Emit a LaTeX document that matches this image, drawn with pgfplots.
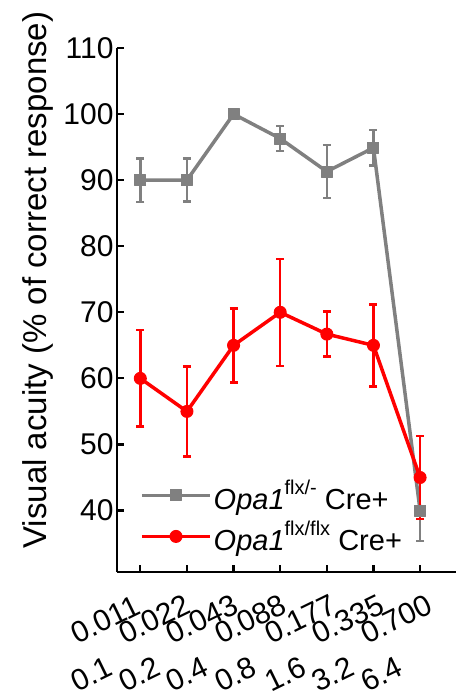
\documentclass[border=0pt]{standalone}
\usepackage{graphicx}
\usepackage{pgfplots}
\pgfplotsset{compat=1.18}
\usepackage{pgfplotstable}
\usepackage{fontspec}
\setmainfont{Liberation Sans}
\definecolor{grayc}{RGB}{128,128,128}
\definecolor{redc}{RGB}{255,0,0}
\newcommand{\xl}[2]{\kern#1pt\rotatebox{26}{#2}}

\pgfplotstableread{
x y e
1 90 3.3
2 90 3.25
3 100 0
4 96.3 1.9
5 91.3 4.0
6 94.9 2.7
7 40 4.6
}\graydata

\pgfplotstableread{
x y e
1 60 7.3
2 55 6.8
3 65 5.6
4 70 8.1
5 66.7 3.4
6 65 6.2
7 45 6.3
}\reddata

\begin{document}
\begin{tikzpicture}
\begin{axis}[
 scale only axis, width=339pt, height=524pt,
 xmin=0.5, xmax=7.77, ymin=30.7, ymax=110,
 axis x line=bottom, axis y line=left,
 axis line style={-, line width=2.5pt},
 tick align=inside, major tick length=7pt,
 tick style={line width=2.2pt, black},
 ytick={40,50,...,110},
 /pgf/number format/assume math mode=true,
 y tick label style={font=\fontsize{30}{30}\selectfont},
 xtick={1,...,7},
 xticklabels={\xl{0}{0.011},\xl{1}{0.022},\xl{2}{0.043},\xl{4}{0.088},\xl{7}{0.177},\xl{8}{0.335},\xl{10}{0.700}},
 x tick label style={font=\fontsize{30}{30}\selectfont, inner sep=0pt, outer sep=0pt, anchor=south west, xshift=-72pt, yshift=-73pt},
 extra x ticks={1,...,7},
 extra x tick labels={\xl{0}{0.1},\xl{1}{0.2},\xl{2}{0.4},\xl{4}{0.8},\xl{7}{1.6},\xl{8}{3.2},\xl{10}{6.4}},
 extra x tick style={major tick length=0pt, x tick label style={yshift=-48pt}},
 every axis y label/.style={at={(axis description cs:-0.2065,0.557)}, rotate=90, anchor=base},
 ylabel={\fontsize{33}{33}\selectfont Visual acuity (\% of correct response)},
 legend style={draw=none, fill=none, at={(rel axis cs:0.068,0.107)}, anchor=west, font=\fontsize{29}{29}\selectfont, row sep=6pt, inner sep=0pt, cells={anchor=west}},
 legend image code/.code={\draw[mark repeat=2, mark phase=2, #1] plot coordinates {(0pt,0pt) (34pt,0pt) (68pt,0pt)};},
 clip=false,
]
\addplot[grayc, line width=3.5pt, line join=round, mark=square*, mark size=5.5pt, mark options={solid, line width=1pt, fill=grayc},
  error bars/.cd, y dir=both, y explicit, error bar style={line width=2.5pt, grayc}, error mark options={rotate=90, line width=2.5pt, mark size=4pt, grayc}]
  table[x=x, y=y, y error=e] {\graydata};
\addlegendentry{\textit{Opa1}\raisebox{15pt}{\fontsize{20}{20}\selectfont flx/-} Cre+}
\addplot[redc, line width=3.5pt, line join=round, mark=*, mark size=6pt, mark options={solid, line width=1pt, fill=redc},
  error bars/.cd, y dir=both, y explicit, error bar style={line width=2.5pt, redc}, error mark options={rotate=90, line width=2.5pt, mark size=4pt, redc}]
  table[x=x, y=y, y error=e] {\reddata};
\addlegendentry{\textit{Opa1}\raisebox{15pt}{\fontsize{20}{20}\selectfont flx/flx} Cre+}
\end{axis}
\pgfresetboundingbox
\path[use as bounding box] (-117pt,-127pt) rectangle (339pt,572pt);
\end{tikzpicture}
\end{document}
